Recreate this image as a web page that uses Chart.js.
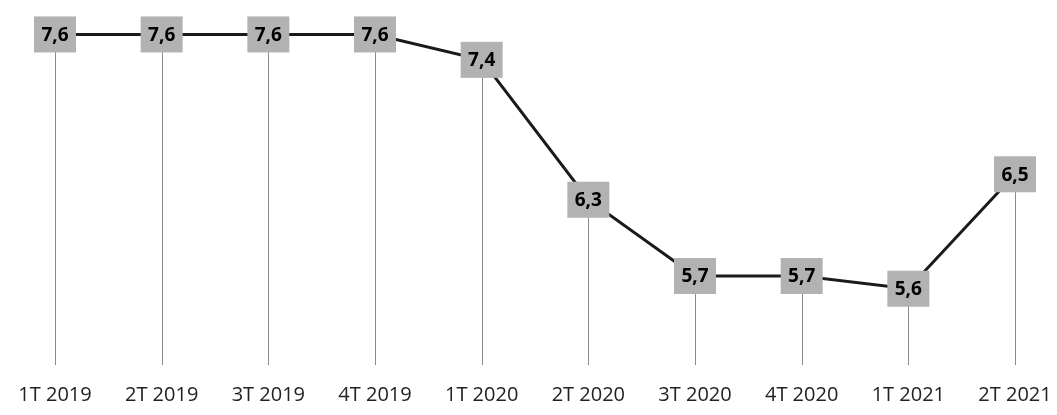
<!DOCTYPE html>
<html>
<head>
<meta charset="utf-8">
<script src="https://cdn.jsdelivr.net/npm/chart.js@4"></script>
<style>
    body { margin: 0; background: #fff; }
    #wrap { width: 1057px; height: 415px; }
</style>
</head>
<body>
<div id="wrap"><canvas id="chart" width="1057" height="415"></canvas></div>
<script>
const quarters = ['1T 2019', '2T 2019', '3T 2019', '4T 2019', '1T 2020', '2T 2020', '3T 2020', '4T 2020', '1T 2021', '2T 2021'];
const rates = [7.6, 7.6, 7.6, 7.6, 7.4, 6.3, 5.7, 5.7, 5.6, 6.5];
const yMin = 5.0;
const yMax = 7.8;

const fmt = v => v.toFixed(1).replace('.', ',');

// vertical lines from each point down to the bottom of the plot area
const dropLines = {
    id: 'dropLines',
    beforeDatasetsDraw(chart) {
        const ctx = chart.ctx;
        const bottom = chart.chartArea.bottom;
        const meta = chart.getDatasetMeta(0);
        ctx.save();
        ctx.strokeStyle = '#8a8a8a';
        ctx.lineWidth = 1;
        meta.data.forEach(pt => {
            const x = Math.round(pt.x) + 0.5;
            ctx.beginPath();
            ctx.moveTo(x, pt.y);
            ctx.lineTo(x, bottom);
            ctx.stroke();
        });
        ctx.restore();
    }
};

// grey boxes with the value on every point
const valueBoxes = {
    id: 'valueBoxes',
    afterDatasetsDraw(chart) {
        const ctx = chart.ctx;
        const meta = chart.getDatasetMeta(0);
        const ds = chart.data.datasets[0].data;
        ctx.save();
        ctx.font = 'bold 19px "Open Sans", sans-serif';
        ctx.textAlign = 'center';
        ctx.textBaseline = 'middle';
        meta.data.forEach((pt, i) => {
            const w = 42, h = 36;
            ctx.fillStyle = '#b2b2b2';
            ctx.fillRect(pt.x - w / 2, pt.y - h / 2, w, h);
            ctx.fillStyle = '#000';
            ctx.fillText(fmt(ds[i]), pt.x, pt.y + 1);
        });
        ctx.restore();
    }
};

new Chart(document.getElementById('chart'), {
    type: 'line',
    data: {
        labels: quarters,
        datasets: [{
            data: rates,
            borderColor: '#1a1a1a',
            borderWidth: 3,
            pointRadius: 0,
            tension: 0,
            fill: false
        }]
    },
    options: {
        responsive: false,
        animation: false,
        layout: {
            padding: { top: 9, bottom: 0, left: 55, right: 42 }
        },
        plugins: {
            legend: { display: false },
            tooltip: { enabled: false }
        },
        scales: {
            x: {
                offset: false,
                grid: { display: false },
                border: { display: false },
                ticks: {
                    color: '#222',
                    padding: 10,
                    maxRotation: 0,
                    autoSkip: false,
                    font: { family: '"Open Sans", sans-serif', size: 20 }
                },
                afterFit(scale) {
                    scale.paddingLeft = 0;
                    scale.paddingRight = 0;
                    scale.height = 50;
                }
            },
            y: {
                display: false,
                min: yMin,
                max: yMax
            }
        }
    },
    plugins: [dropLines, valueBoxes]
});
</script>
</body>
</html>
